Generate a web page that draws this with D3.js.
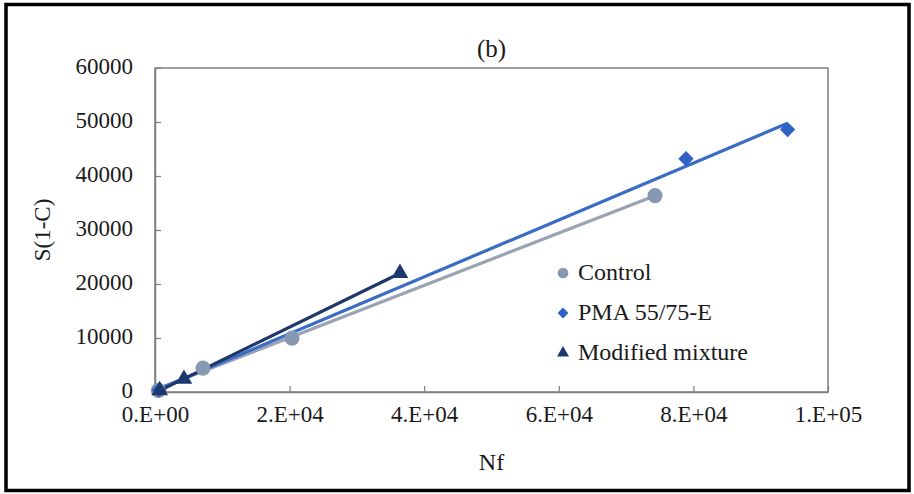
<!DOCTYPE html>
<html>
    <head>
        <script src="https://cdnjs.cloudflare.com/ajax/libs/d3/7.8.5/d3.min.js"></script>
    </head>
    <body style="margin:0; background:#fff">
        <script>
            // values
            const xTicks = [0, 20000, 40000, 60000, 80000, 100000];
            const xTickLabels = ["0.E+00", "2.E+04", "4.E+04", "6.E+04", "8.E+04", "1.E+05"];
            const yTicks = [0, 10000, 20000, 30000, 40000, 50000, 60000];
            const seriesNames = ["Control", "PMA 55/75-E", "Modified mixture"];

            const controlNf = [500, 7130, 20360, 74300];
            const controlS = [300, 4430, 9970, 36370];
            const pmaNf = [600, 78900, 94000];
            const pmaS = [350, 43200, 48600];
            const modNf = [700, 4300, 36400];
            const modS = [300, 2400, 22000];

            const w = 914, h = 494;
            const plotL = 155, plotR = 828, plotT = 68, plotB = 392;
            const serif = "Liberation Serif";

            const svg = d3.select("body").append("svg")
                .attr("width", w)
                .attr("height", h);

            // outer black frame
            svg.append("rect")
                .attr("x", 6).attr("y", 4.5)
                .attr("width", 903).attr("height", 486)
                .attr("fill", "none")
                .attr("stroke", "#000")
                .attr("stroke-width", 3.5);

            const xScale = d3.scaleLinear().domain([0, 100000]).range([plotL, plotR]);
            const yScale = d3.scaleLinear().domain([0, 60000]).range([plotB, plotT]);

            // plot area box
            svg.append("rect")
                .attr("x", plotL).attr("y", plotT)
                .attr("width", plotR - plotL).attr("height", plotB - plotT)
                .attr("fill", "none")
                .attr("stroke", "#7f7f7f")
                .attr("stroke-width", 1.5);

            const xAxis = d3.axisBottom(xScale)
                .tickValues(xTicks)
                .tickFormat((d, i) => xTickLabels[i])
                .tickSizeInner(-6)
                .tickSizeOuter(0)
                .tickPadding(14);
            const yAxis = d3.axisLeft(yScale)
                .tickValues(yTicks)
                .tickFormat(d => d)
                .tickSizeInner(-6)
                .tickSizeOuter(0)
                .tickPadding(22);

            const gx = svg.append("g").attr("transform", "translate(0," + plotB + ")").call(xAxis);
            const gy = svg.append("g").attr("transform", "translate(" + plotL + ",0)").call(yAxis);
            [gx, gy].forEach(g => {
                g.attr("font-family", serif);
                g.select(".domain").attr("stroke", "#7f7f7f").attr("stroke-width", 1.5);
                g.selectAll(".tick line").attr("stroke", "#7f7f7f").attr("stroke-width", 1.2);
                g.selectAll(".tick text")
                    .attr("font-family", serif)
                    .style("font-family", serif)
                    .attr("font-size", 23)
                    .attr("fill", "#1a1a1a");
            });
            gx.selectAll(".tick text").attr("dy", "0.71em");
            gy.selectAll(".tick text").attr("dy", "0.26em");

            // titles
            svg.append("text")
                .attr("x", (plotL + plotR) / 2).attr("y", 57)
                .attr("text-anchor", "middle")
                .attr("font-family", serif)
                .attr("font-size", 25)
                .attr("fill", "#1a1a1a")
                .text("(b)");
            svg.append("text")
                .attr("x", (plotL + plotR) / 2).attr("y", 470)
                .attr("text-anchor", "middle")
                .attr("font-family", serif)
                .attr("font-size", 24)
                .attr("fill", "#1a1a1a")
                .text("Nf");
            svg.append("text")
                .attr("transform", "translate(50," + (plotT + plotB) / 2 + ") rotate(-90)")
                .attr("text-anchor", "middle")
                .attr("font-family", serif)
                .attr("font-size", 23)
                .attr("fill", "#1a1a1a")
                .text("S(1-C)");

            const series = [
                { name: seriesNames[0], xs: controlNf, ys: controlS, line: "#9aa3b3", fill: "#8798b2",
                  symbol: d3.symbolCircle, size: 180, rot: 0, lsize: 90 },
                { name: seriesNames[1], xs: pmaNf, ys: pmaS, line: "#3a6cc6", fill: "#2f62c4",
                  symbol: d3.symbolSquare, size: 118, rot: 45, lsize: 58 },
                { name: seriesNames[2], xs: modNf, ys: modS, line: "#1d3868", fill: "#1c3a70",
                  symbol: d3.symbolTriangle, size: 120, rot: 0, lsize: 62 }
            ];

            // linear trendline over each series' range
            function fit(xs, ys) {
                const mx = d3.mean(xs), my = d3.mean(ys);
                const sxy = d3.sum(xs, (x, i) => (x - mx) * (ys[i] - my));
                const sxx = d3.sum(xs, x => (x - mx) * (x - mx));
                const b = sxy / sxx, a = my - b * mx;
                const x0 = d3.min(xs), x1 = d3.max(xs);
                return [[x0, a + b * x0], [x1, a + b * x1]];
            }

            const line = d3.line().x(d => xScale(d[0])).y(d => yScale(d[1]));

            series.forEach(s => {
                svg.append("path")
                    .attr("d", line(fit(s.xs, s.ys)))
                    .attr("fill", "none")
                    .attr("stroke", s.line)
                    .attr("stroke-width", 3.2);
            });

            series.forEach(s => {
                svg.selectAll(null)
                    .data(s.xs.map((x, i) => [x, s.ys[i]]))
                    .enter()
                    .append("path")
                    .attr("d", d3.symbol().type(s.symbol).size(s.size))
                    .attr("transform", d => "translate(" + xScale(d[0]) + "," + yScale(d[1]) + ") rotate(" + s.rot + ")")
                    .attr("fill", s.fill);
            });

            // legend
            const legend = svg.append("g").attr("transform", "translate(563,273)");
            series.forEach((s, i) => {
                legend.append("path")
                    .attr("d", d3.symbol().type(s.symbol).size(s.lsize))
                    .attr("transform", "translate(0," + (i * 40) + ") rotate(" + s.rot + ")")
                    .attr("fill", s.fill);
                legend.append("text")
                    .attr("x", 15).attr("y", i * 40 + 7)
                    .attr("font-family", serif)
                    .attr("font-size", 24)
                    .attr("fill", "#1a1a1a")
                    .text(s.name);
            });
        </script>
    </body>
</html>
